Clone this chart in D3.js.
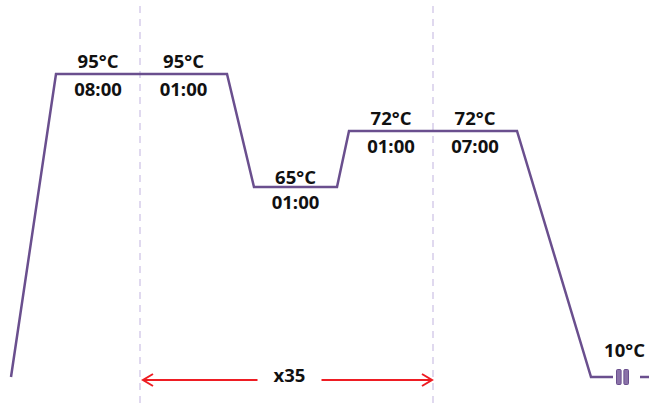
<!DOCTYPE html>
<html>
<head>
<meta charset="utf-8">
<script src="https://cdn.jsdelivr.net/npm/d3@7"></script>
<style>
  body { margin: 0; background: #fff; }
  .lbl { font-family: "Open Sans", sans-serif; font-weight: 700; font-size: 18.5px; fill: #111; }
</style>
</head>
<body>
<script>
// schematic thermal profile (time in arbitrary drawing units, temperature in °C)
var profileTime = [0, 45, 216, 243, 326, 338, 506, 580, 602];
var profileTemp = [10, 95, 95, 65, 65, 72, 72, 10, 10];
var tailTime = [629, 638];
var tailTemp = [10, 10];
var breakTime = 611.5;

// hold steps: label + where the hold sits
var stepTemp  = ["95°C", "95°C", "65°C", "72°C", "72°C"];
var stepTime  = ["08:00", "01:00", "01:00", "01:00", "07:00"];
var stepStart = [45, 129, 243, 338, 422];
var stepEnd   = [129, 216, 326, 422, 506];
var stepLevel = [95, 95, 65, 72, 72];

var cycleBounds = [129, 422];
var cycleLabel = "x35";
var holdLabel = "10°C";

var width = 649, height = 403;

var svg = d3.select("body").append("svg")
    .attr("width", width)
    .attr("height", height);

var xScale = d3.scaleLinear()
    .domain([0, 638])
    .range([11, 649]);

// schematic, not proportional
var yScale = d3.scaleLinear()
    .domain([10, 65, 72, 95])
    .range([377, 187, 131, 74]);

var purple = "#6a4f8e";

// cycle boundaries
svg.selectAll(".cyc")
    .data(cycleBounds).enter()
    .append("line")
    .attr("x1", function(d) { return xScale(d); })
    .attr("x2", function(d) { return xScale(d); })
    .attr("y1", 6)
    .attr("y2", height)
    .attr("stroke", "#d6cdea")
    .attr("stroke-width", 1.5)
    .attr("stroke-dasharray", "7,6");

var line = d3.line()
    .x(function(d) { return xScale(d[0]); })
    .y(function(d) { return yScale(d[1]); });

svg.append("path")
    .attr("d", line(d3.zip(profileTime, profileTemp)))
    .attr("fill", "none")
    .attr("stroke", purple)
    .attr("stroke-width", 2.5);

svg.append("path")
    .attr("d", line(d3.zip(tailTime, tailTemp)))
    .attr("fill", "none")
    .attr("stroke", purple)
    .attr("stroke-width", 2.5);

// break symbol
[-3.7, 3.7].forEach(function(off) {
  svg.append("rect")
      .attr("x", xScale(breakTime) + off - 2.3)
      .attr("y", yScale(10) - 7.5)
      .attr("width", 4.6)
      .attr("height", 15)
      .attr("rx", 1)
      .attr("fill", "#8a72a8")
      .attr("stroke", purple)
      .attr("stroke-width", 1);
});

// step labels
var steps = stepTemp.map(function(t, i) {
  return { temp: t, time: stepTime[i], mid: (stepStart[i] + stepEnd[i]) / 2, level: stepLevel[i] };
});

svg.selectAll(".tlbl")
    .data(steps).enter()
    .append("text")
    .attr("class", "lbl")
    .attr("x", function(d) { return xScale(d.mid); })
    .attr("y", function(d) { return yScale(d.level) - (d.level == 65 ? 3 : 6); })
    .attr("text-anchor", "middle")
    .text(function(d) { return d.temp; });

svg.selectAll(".dlbl")
    .data(steps).enter()
    .append("text")
    .attr("class", "lbl")
    .attr("x", function(d) { return xScale(d.mid); })
    .attr("y", function(d) { return yScale(d.level) + 22; })
    .attr("text-anchor", "middle")
    .text(function(d) { return d.time; });

svg.append("text")
    .attr("class", "lbl")
    .attr("x", xScale(breakTime) + 2)
    .attr("y", yScale(10) - 20)
    .attr("text-anchor", "middle")
    .text(holdLabel);

// cycle arrow
var red = "#ee1d23";
var ay = 380;
var a0 = xScale(cycleBounds[0]) + 3, a1 = xScale(cycleBounds[1]) - 1;
var mid = (a0 + a1) / 2 + 4;

svg.append("line")
    .attr("x1", a0).attr("x2", mid - 34)
    .attr("y1", ay).attr("y2", ay)
    .attr("stroke", red).attr("stroke-width", 2);
svg.append("line")
    .attr("x1", mid + 30).attr("x2", a1)
    .attr("y1", ay).attr("y2", ay)
    .attr("stroke", red).attr("stroke-width", 2);
svg.append("path")
    .attr("d", "M" + (a0 + 10) + "," + (ay - 6) + " L" + a0 + "," + ay + " L" + (a0 + 10) + "," + (ay + 6))
    .attr("fill", "none").attr("stroke", red).attr("stroke-width", 2);
svg.append("path")
    .attr("d", "M" + (a1 - 10) + "," + (ay - 6) + " L" + a1 + "," + ay + " L" + (a1 - 10) + "," + (ay + 6))
    .attr("fill", "none").attr("stroke", red).attr("stroke-width", 2);

svg.append("text")
    .attr("class", "lbl")
    .attr("x", mid - 2)
    .attr("y", ay + 2)
    .attr("text-anchor", "middle")
    .text(cycleLabel);
</script>
</body>
</html>
